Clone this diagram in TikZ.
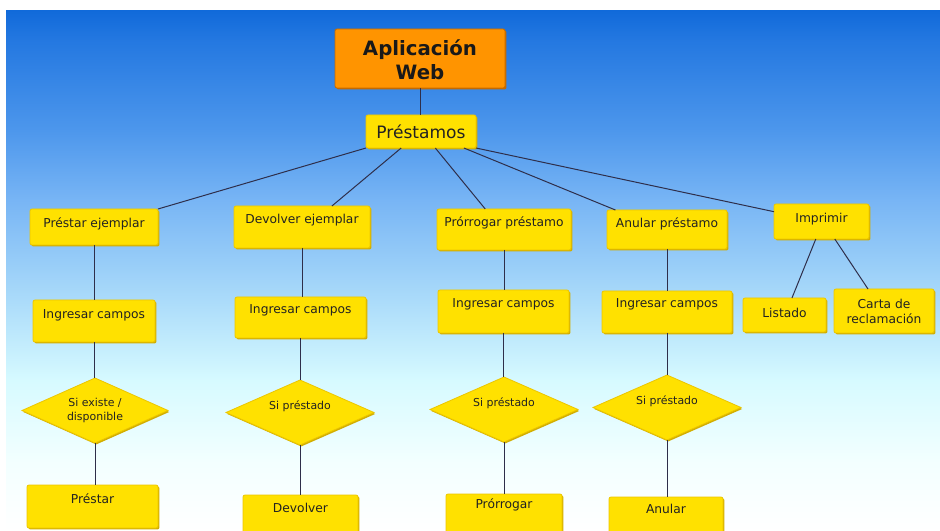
\documentclass[tikz,border=0pt]{standalone}
\usepackage{fontspec}
\setmainfont{DejaVu Sans}
\usetikzlibrary{shapes.geometric,calc,shadows}
\definecolor{ylw}{HTML}{FFE100}
\definecolor{ylwdark}{HTML}{D2AE00}
\definecolor{ylwedge}{HTML}{ECC600}
\definecolor{org}{HTML}{FF9400}
\definecolor{orgdark}{HTML}{C46A00}
\definecolor{lnc}{HTML}{2E2E4A}
\definecolor{txt}{HTML}{222222}
\pgfdeclareverticalshading{bgshade}{100bp}{rgb(0bp)=(1,1,1); rgb(25bp)=(1,1,1); rgb(31.8bp)=(0.95,1,1); rgb(39.5bp)=(0.84,0.98,1); rgb(47.2bp)=(0.67,0.86,0.98); rgb(56.8bp)=(0.47,0.71,0.96); rgb(63.6bp)=(0.30,0.59,0.925); rgb(72.2bp)=(0.14,0.47,0.88); rgb(75bp)=(0.067,0.416,0.855); rgb(100bp)=(0.067,0.416,0.855)}
\tikzset{
  ybox/.style={rectangle, fill=ylw, draw=ylwedge, line width=0.6pt, rounded corners=1.5pt, inner sep=0pt, outer sep=0pt,
    drop shadow={opacity=1, fill=ylwdark, shadow xshift=1.1pt, shadow yshift=-1.1pt}},
  obox/.style={rectangle, fill=org, draw=orgdark, line width=0.6pt, rounded corners=1.5pt, inner sep=0pt, outer sep=0pt,
    drop shadow={opacity=1, fill=orgdark, shadow xshift=1.1pt, shadow yshift=-1.1pt}},
  dmd/.style={diamond, fill=ylw, draw=ylwedge, line width=0.6pt, inner sep=0pt, outer sep=0pt,
    drop shadow={opacity=1, fill=ylwdark, shadow xshift=0.9pt, shadow yshift=-1.1pt}},
  btext/.style={text=txt, font=\fontsize{9.2}{11.3}\selectfont, align=center, inner sep=0pt},
  dtext/.style={text=txt, font=\fontsize{8.2}{10.5}\selectfont, align=center, inner sep=0pt},
  conn/.style={draw=lnc, line width=0.75pt},
}
% name, x1, y1, x2, y2, text y, text
\newcommand\yb[7]{%
  \node[ybox, minimum width={(#4-#2)*0.75pt}, minimum height={(#5-#3)*0.75pt}] (#1) at ({(#2+#4)/2},{(#3+#5)/2}) {};
  \node[btext] (#1t) at ({(#2+#4)/2},#6) {#7};
}
% name, cx, cy, w, h, text y, text
\newcommand\yd[7]{%
  \node[dmd, minimum width={#4*0.75pt}, minimum height={#5*0.75pt}] (#1) at (#2,#3) {};
  \node[dtext] (#1t) at (#2,#6) {#7};
}
\begin{document}
\begin{tikzpicture}[x=0.75pt,y=-0.75pt]
\useasboundingbox (0,0) rectangle (940,531);
\clip (0,0) rectangle (940,531);
\fill[white] (0,0) rectangle (940,531);
\shade[shading=bgshade] (6,11) rectangle (940,531);

% top
\node[obox, minimum width={170*0.75pt}, minimum height={59*0.75pt}] (app) at (420,58.5) {};
\node[text=black!90, font=\bfseries\fontsize{14.8}{18}\selectfont, align=center, inner sep=0pt] (appt) at (420,60) {Aplicación\\Web};
\yb{pres}{366}{115}{476}{148}{132}{\fontsize{12.8}{14}\selectfont Préstamos}

% row 1
\yb{pe}{30}{209}{158}{245}{224}{Préstar ejemplar}
\yb{de}{234}{206}{370}{248}{220}{Devolver ejemplar}
\yb{pp}{437}{209}{571}{250}{223}{Prórrogar préstamo}
\yb{ap}{607}{210}{727}{249}{224}{Anular préstamo}
\yb{im}{774}{204}{869}{239}{219}{Imprimir}

% row 2
\yb{ic1}{33}{300}{155}{342}{315}{Ingresar campos}
\yb{ic2}{235}{297}{366}{338}{310}{Ingresar campos}
\yb{ic3}{438}{290}{569}{333}{304}{Ingresar campos}
\yb{ic4}{602}{291}{732}{333}{304}{Ingresar campos}
\yb{li}{743}{298}{826}{332}{313}{Listado}
\yb{ca}{834}{289}{934}{333}{311}{\fontsize{9.2}{11.3}\selectfont Carta de\\reclamación}

% row 3 (decisions)
\yd{d1}{95}{410.5}{146}{65}{410.5}{Si existe /\\disponible}
\yd{d2}{300}{412.5}{148}{65}{406}{Si préstado}
\yd{d3}{504}{409.5}{148}{65}{403}{Si préstado}
\yd{d4}{667}{407.5}{148}{65}{401}{Si préstado}

% row 4
\yb{p1}{27}{485}{158}{528}{499}{Préstar}
\yb{p2}{243}{495}{358}{545}{508}{Devolver}
\yb{p3}{446}{494}{562}{545}{505}{Prórrogar}
\yb{p4}{609}{497}{723}{545}{509}{Anular}

% connectors
\draw[conn] (app.south) -- (app.south |- pres.north);
\draw[conn] (pres.south west) -- (pe.north east);
\draw[conn] ($(pres.south west)!0.32!(pres.south east)$) -- ($(de.north west)!0.72!(de.north east)$);
\draw[conn] ($(pres.south west)!0.63!(pres.south east)$) -- ($(pp.north west)!0.36!(pp.north east)$);
\draw[conn] ($(pres.south west)!0.89!(pres.south east)$) -- ($(ap.north west)!0.07!(ap.north east)$);
\draw[conn] (pres.south east) -- ($(im.north west)!0.22!(im.south west)$);
\draw[conn] ($(im.south west)!0.44!(im.south east)$) -- ($(li.north west)!0.59!(li.north east)$);
\draw[conn] ($(im.south west)!0.64!(im.south east)$) -- ($(ca.north west)!0.34!(ca.north east)$);

\foreach \a/\b in {pe/ic1, ic1/d1, d1/p1, de/ic2, ic2/d2, d2/p2, pp/ic3, ic3/d3, d3/p3, ap/ic4, ic4/d4, d4/p4}
  \draw[conn] (\a.south) -- (\a.south |- \b.north);
\end{tikzpicture}
\end{document}
